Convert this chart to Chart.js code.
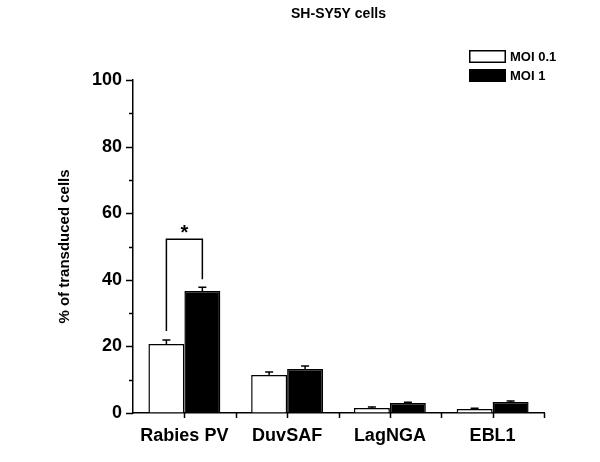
<!DOCTYPE html>
<html>
<head>
<meta charset="utf-8">
<script src="https://cdn.jsdelivr.net/npm/chart.js@4/dist/chart.umd.min.js"></script>
<style>
html,body{margin:0;padding:0;background:#fff;}
#wrap{width:600px;height:462px;position:relative;}
</style>
</head>
<body>
<div id="wrap"><canvas id="c" width="600" height="462"></canvas></div>
<script>
const chartTitle = 'SH-SY5Y cells';
const yAxisTitle = '% of transduced cells';
const categories = ['Rabies PV', 'DuvSAF', 'LagNGA', 'EBL1'];
const seriesNames = ['MOI 0.1', 'MOI 1'];
const moi01 = [20.7, 11.4, 1.5, 1.2];
const moi01Err = [1.2, 0.9, 0.3, 0.2];
const moi1 = [36.6, 13.2, 3.0, 3.3];
const moi1Err = [1.2, 0.9, 0.2, 0.3];
const yTicks = [0, 20, 40, 60, 80, 100];
// significance bracket (data units): left leg start, top, right leg end
const sigBracket = [24.6, 52.2, 40.2];
const sigLabel = '*';

const FONT = '"Liberation Sans", Arial, sans-serif';

const extras = {
  id: 'extras',
  afterDatasetsDraw(chart) {
    const ctx = chart.ctx;
    const y = chart.scales.y;
    const errs = [moi01Err, moi1Err];
    const vals = [moi01, moi1];
    ctx.save();
    ctx.strokeStyle = '#000';
    ctx.lineWidth = 1.5;
    for (let d = 0; d < 2; d++) {
      const meta = chart.getDatasetMeta(d);
      meta.data.forEach((bar, i) => {
        const top = y.getPixelForValue(vals[d][i] + errs[d][i]);
        const base = bar.y;
        ctx.beginPath();
        ctx.moveTo(bar.x, base);
        ctx.lineTo(bar.x, top);
        ctx.moveTo(bar.x - 4, top);
        ctx.lineTo(bar.x + 4, top);
        ctx.stroke();
      });
    }
    // bracket
    const b0 = chart.getDatasetMeta(0).data[0];
    const b1 = chart.getDatasetMeta(1).data[0];
    ctx.beginPath();
    ctx.moveTo(b0.x, y.getPixelForValue(sigBracket[0]));
    ctx.lineTo(b0.x, y.getPixelForValue(sigBracket[1]));
    ctx.lineTo(b1.x, y.getPixelForValue(sigBracket[1]));
    ctx.lineTo(b1.x, y.getPixelForValue(sigBracket[2]));
    ctx.stroke();
    ctx.fillStyle = '#000';
    ctx.font = 'bold 20px ' + FONT;
    ctx.textAlign = 'center';
    ctx.textBaseline = 'middle';
    ctx.fillText(sigLabel, (b0.x + b1.x) / 2, y.getPixelForValue(sigBracket[1]) - 6);
    ctx.restore();
  },
  afterDraw(chart) {
    const ctx = chart.ctx;
    const y = chart.scales.y;
    const a = chart.chartArea;
    ctx.save();
    ctx.strokeStyle = '#000';
    ctx.lineWidth = 1.5;
    // y ticks
    ctx.beginPath();
    for (let v = 0; v <= 100; v += 10) {
      const py = Math.round(y.getPixelForValue(v)) + 0.5;
      const len = (v % 20 === 0) ? 7 : 4;
      ctx.moveTo(a.left - len, py);
      ctx.lineTo(a.left, py);
    }
    // x ticks at centers and boundaries
    const n = categories.length;
    const step = (a.right - a.left) / n;
    for (let i = 1; i <= 2 * n; i++) {
      const px = Math.round(a.left + i * step / 2) + 0.5;
      ctx.moveTo(px, a.bottom);
      ctx.lineTo(px, a.bottom + 5);
    }
    ctx.stroke();
    // title
    ctx.fillStyle = '#000';
    ctx.font = 'bold 14px ' + FONT;
    ctx.textAlign = 'center';
    ctx.textBaseline = 'middle';
    ctx.fillText(chartTitle, (a.left + a.right) / 2, 14);
    // legend
    const lx = 469, lw = 37, lh = 13;
    const ly = [50, 69];
    const fills = ['#fff', '#000'];
    ctx.font = 'bold 13px ' + FONT;
    ctx.textAlign = 'left';
    for (let i = 0; i < 2; i++) {
      ctx.fillStyle = fills[i];
      ctx.fillRect(lx, ly[i], lw, lh);
      ctx.strokeRect(lx + 0.75, ly[i] + 0.75, lw - 1.5, lh - 1.5);
      ctx.fillStyle = '#000';
      ctx.fillText(seriesNames[i], lx + lw + 4, ly[i] + lh / 2 + 1);
    }
    ctx.restore();
  }
};

new Chart(document.getElementById('c'), {
  type: 'bar',
  data: {
    labels: categories,
    datasets: [
      { label: seriesNames[0], data: moi01, backgroundColor: '#ffffff', borderColor: '#000000', borderWidth: 1.5 },
      { label: seriesNames[1], data: moi1, backgroundColor: '#000000', borderColor: '#000000', borderWidth: 1.5 }
    ]
  },
  options: {
    responsive: false,
    animation: false,
    devicePixelRatio: 1,
    layout: { padding: { left: 0, right: 56, top: 80, bottom: 0 } },
    plugins: { legend: { display: false }, title: { display: false }, tooltip: { enabled: false } },
    datasets: { bar: { categoryPercentage: 0.7, barPercentage: 1.0 } },
    scales: {
      x: {
        grid: { display: true, drawOnChartArea: false, drawTicks: true, tickLength: 5, color: 'rgba(0,0,0,0)' },
        border: { display: true, color: '#000', width: 1.5 },
        ticks: { color: '#000', font: { family: FONT, size: 18, weight: 'bold' }, padding: 7, maxRotation: 0 },
        afterFit(s) { s.height = 49; }
      },
      y: {
        min: 0, max: 100,
        grid: { display: true, drawOnChartArea: false, drawTicks: true, tickLength: 7, color: 'rgba(0,0,0,0)' },
        border: { display: true, color: '#000', width: 1.5 },
        ticks: {
          stepSize: 10, autoSkip: false, color: '#000', padding: 4,
          font: { family: FONT, size: 18, weight: 'bold' },
          callback: (v) => yTicks.includes(v) ? String(v) : ''
        },
        title: { display: true, text: yAxisTitle, color: '#000', font: { family: FONT, size: 15, weight: 'bold' }, padding: { top: 56, bottom: 0 } },
        afterFit(s) { s.width = 133; }
      }
    }
  },
  plugins: [extras]
});
</script>
</body>
</html>
